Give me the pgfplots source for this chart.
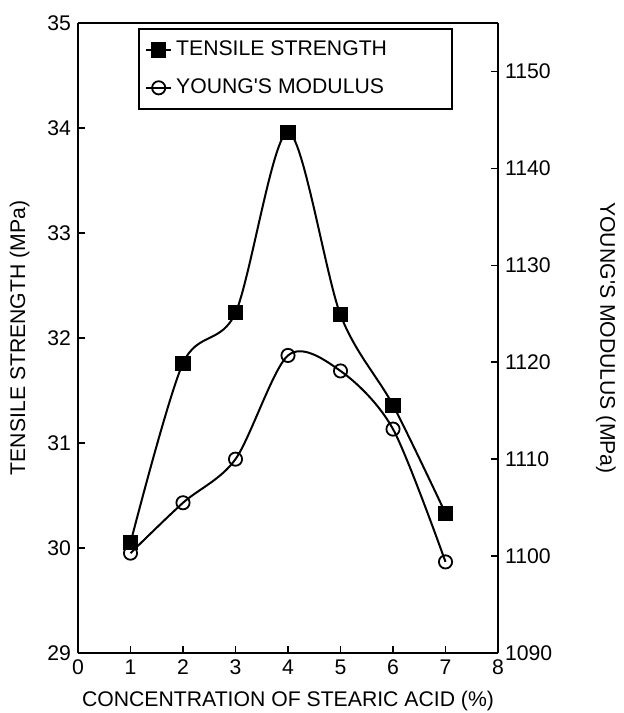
\documentclass[border=0pt]{standalone}
\usepackage{fontspec}
\newfontfamily\lsans{Liberation Sans}
\usepackage{pgfplots}
\pgfplotsset{compat=1.18}
\usetikzlibrary{calc}
\begin{document}
\begin{tikzpicture}[font=\lsans\fontsize{10.6}{12.5}\selectfont]
\begin{axis}[
  scale only axis, width=210pt, height=315pt,
  xmin=0, xmax=8, ymin=29, ymax=35,
  xtick={0,...,8}, ytick={29,...,35},
  axis y line*=left, axis x line*=bottom,
  tick align=inside, major tick length=3.5pt,
  tick style={black, line width=0.8pt},
  axis line style={line width=1.2pt},
  /pgf/number format/assume math mode=true,
  xlabel={CONCENTRATION OF STEARIC ACID (\%)},
  ylabel={TENSILE STRENGTH (MPa)},
  xlabel style={yshift=-1pt},
  ylabel shift=2pt,
  legend style={at={(0.143,0.992)}, anchor=north west, draw=black, line width=1.1pt,
    row sep=6pt, inner xsep=3pt, inner ysep=4pt, font=\lsans\fontsize{10.6}{12.5}\selectfont},
  legend cell align=left,
  legend image code/.code={\draw[#1, mark repeat=2, mark phase=2] plot coordinates {(0cm,0cm)(0.22cm,0cm)(0.44cm,0cm)};},
]
\addplot[black, line width=1pt, smooth, mark=square*, mark size=3.3pt, mark options={solid, fill=black}]
  coordinates {(1,30.05) (2,31.76) (3,32.24) (4,33.96) (5,32.22) (6,31.36) (7,30.33)};
\addlegendentry{\makebox[133pt][l]{TENSILE STRENGTH}}
\addlegendimage{black, line width=1pt, mark=o, mark size=3.3pt, mark options={solid, line width=0.9pt}}
\addlegendentry{\makebox[133pt][l]{YOUNG\textquotesingle S MODULUS}}
\end{axis}
\begin{axis}[
  scale only axis, width=210pt, height=315pt,
  xmin=0, xmax=8, ymin=1090, ymax=1155,
  ytick={1090,1100,...,1150},
  axis y line*=right, axis x line=none,
  tick align=inside, major tick length=3.5pt,
  tick style={black, line width=0.8pt},
  axis line style={line width=1.2pt},
  /pgf/number format/assume math mode=true,
  /pgf/number format/1000 sep={},
  ylabel={YOUNG\textquotesingle S MODULUS (MPa)},
  ylabel style={rotate=180},
  ylabel shift=15pt,
]
\addplot[black, line width=1pt, smooth, mark=o, mark size=3.3pt, mark options={solid, fill=white, line width=0.9pt}]
  coordinates {(1,1100.3) (2,1105.5) (3,1110.0) (4,1120.7) (5,1119.1) (6,1113.1) (7,1099.4)};
\end{axis}
\draw[line width=1.2pt] (current axis.north west) -- (current axis.north east);
\pgfresetboundingbox
\path ($(current axis.south west)+(-39pt,-30pt)$) rectangle ($(current axis.north east)+(62.5pt,11.5pt)$);
\end{tikzpicture}
\end{document}
